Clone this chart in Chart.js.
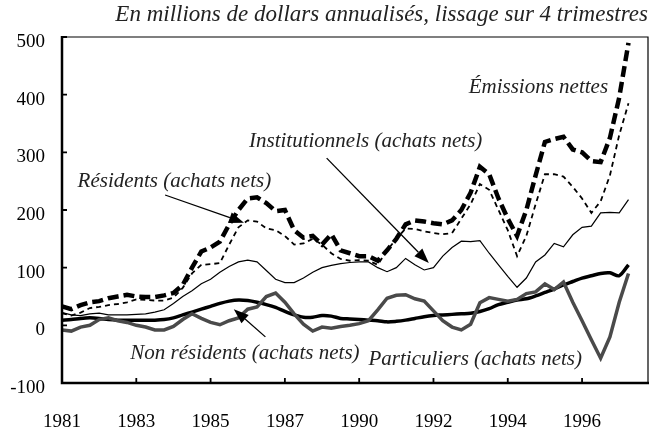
<!DOCTYPE html>
<html>
<head>
<meta charset="utf-8">
<script src="https://cdn.jsdelivr.net/npm/chart.js@4.4.1/dist/chart.umd.min.js"></script>
<style>
  body { margin: 0; background: #fff; }
  canvas { display: block; }
</style>
</head>
<body>
<canvas id="chart" width="658" height="434"></canvas>
<script>
// quarterly points, 1981 onwards; tick label every 8 quarters
const tickLabels = ['1981', '1983', '1985', '1987', '1990', '1992', '1994', '1996']

const emissions = [33, 28, 35, 40, 42, 47, 50, 53, 50, 49, 49, 52, 56, 70, 100, 128,
  135, 145, 175, 200, 220, 222, 212, 198, 200, 165, 152, 155, 140, 158, 130, 125,
  120, 120, 112, 130, 150, 175, 182, 180, 177, 175, 182, 200, 230, 275, 262, 220,
  185, 155, 200, 260, 318, 323, 327, 305, 300, 285, 283, 325, 395, 490]

const residents = [21, 17, 22, 30, 32, 35, 37, 40, 45, 44, 43, 43, 48, 65, 90, 105,
  106, 108, 140, 170, 182, 180, 168, 165, 155, 140, 142, 150, 140, 125, 115, 112,
  113, 112, 105, 130, 150, 168, 167, 163, 160, 158, 160, 185, 210, 245, 235, 200,
  165, 120, 155, 210, 262, 262, 258, 240, 220, 195, 215, 260, 330, 385]

const institutionnels = [22, 18, 17, 20, 21, 18, 18, 18, 19, 20, 23, 27, 38, 50, 60, 72,
  80, 92, 102, 110, 113, 110, 95, 80, 74, 74, 82, 92, 100, 104, 107, 109,
  110, 110, 100, 93, 100, 116, 105, 96, 100, 120, 135, 146, 145, 147, 125, 105,
  85, 66, 82, 110, 122, 142, 136, 157, 170, 172, 195, 196, 195, 218]

const nonResidents = [9, 10, 12, 13, 12, 10, 9, 9, 9, 9, 9, 10, 13, 18, 23, 28,
  33, 38, 42, 44, 43, 40, 36, 31, 24, 18, 14, 14, 17, 16, 12, 11,
  10, 9, 8, 6, 7, 9, 12, 15, 17, 18, 19, 20, 21, 24, 29, 36,
  40, 44, 46, 51, 57, 63, 70, 76, 82, 86, 90, 91, 86, 105]

const particuliers = [-8, -10, -3, 0, 10, 13, 8, 5, 0, -3, -8, -8, -2, 10, 20, 12,
  5, 1, 8, 13, 28, 32, 50, 56, 40, 20, 2, -10, -3, -5, -2, 0,
  3, 8, 27, 47, 52, 53, 46, 42, 25, 8, -3, -8, 2, 39, 48, 45,
  42, 45, 55, 58, 72, 62, 75, 40, 8, -25, -57, -20, 40, 90]

const toPoints = values => values.map((v, i) => ({x: i, y: v}))

const serif = '"Liberation Serif", "Times New Roman", serif'

// labels written on the plot, placed in data units
const notes = [
  {text: 'Émissions nettes', x: 58.8, y: 412, align: 'right'},
  {text: 'Institutionnels (achats nets)', x: 32.7, y: 318, align: 'center'},
  {text: 'Résidents (achats nets)', x: 12.1, y: 249, align: 'center'},
  {text: 'Non résidents (achats nets)', x: 19.7, y: -48, align: 'center'},
  {text: 'Particuliers (achats nets)', x: 44.5, y: -60, align: 'center'},
]
const arrows = [
  {from: [11.1, 226], to: [19.6, 178]},
  {from: [28.5, 290], to: [39.5, 108]},
  {from: [21.9, -20], to: [18.5, 28]},
]

const notesPlugin = {
  id: 'notes',
  afterDatasetsDraw(chart) {
    const {ctx, chartArea: a, scales: {x, y}} = chart
    ctx.save()
    // box: thin top/right, thick left/bottom
    ctx.strokeStyle = '#000'
    ctx.lineWidth = 1.2
    ctx.beginPath()
    ctx.moveTo(a.left, a.top); ctx.lineTo(a.right, a.top); ctx.lineTo(a.right, a.bottom)
    ctx.stroke()
    ctx.lineWidth = 2.5
    ctx.beginPath()
    ctx.moveTo(a.left, a.top - 1); ctx.lineTo(a.left, a.bottom); ctx.lineTo(a.right + 1, a.bottom)
    ctx.stroke()
    // inward tick marks
    ctx.lineWidth = 1.8
    ctx.beginPath()
    x.ticks.forEach(t => {
      const px = x.getPixelForValue(t.value)
      if (px > a.left + 2) { ctx.moveTo(px, a.bottom); ctx.lineTo(px, a.bottom - 5) }
    })
    y.ticks.forEach(t => {
      const py = y.getPixelForValue(t.value)
      ctx.moveTo(a.left, py); ctx.lineTo(a.left + 5, py)
    })
    ctx.stroke()
    // arrows
    arrows.forEach(ar => {
      const x0 = x.getPixelForValue(ar.from[0]), y0 = y.getPixelForValue(ar.from[1])
      const x1 = x.getPixelForValue(ar.to[0]), y1 = y.getPixelForValue(ar.to[1])
      const ang = Math.atan2(y1 - y0, x1 - x0)
      const len = 15, half = 5.5
      const bx = x1 - len * Math.cos(ang), by = y1 - len * Math.sin(ang)
      ctx.lineWidth = 1.3
      ctx.beginPath(); ctx.moveTo(x0, y0); ctx.lineTo(bx, by); ctx.stroke()
      ctx.beginPath()
      ctx.moveTo(x1, y1)
      ctx.lineTo(bx + half * Math.sin(ang), by - half * Math.cos(ang))
      ctx.lineTo(bx - half * Math.sin(ang), by + half * Math.cos(ang))
      ctx.closePath()
      ctx.fillStyle = '#000'
      ctx.fill()
    })
    // text labels
    ctx.font = 'italic 21px ' + serif
    ctx.fillStyle = '#222'
    ctx.textBaseline = 'middle'
    notes.forEach(n => {
      ctx.textAlign = n.align
      ctx.fillText(n.text, x.getPixelForValue(n.x), y.getPixelForValue(n.y))
    })
    ctx.restore()
  }
}

new Chart(document.getElementById('chart'), {
  type: 'line',
  data: {
    datasets: [
      {label: 'Institutionnels', data: toPoints(institutionnels), borderColor: '#000', borderWidth: 1.2},
      {label: 'Particuliers', data: toPoints(particuliers), borderColor: '#4a4a4a', borderWidth: 3.5},
      {label: 'Non résidents', data: toPoints(nonResidents), borderColor: '#000', borderWidth: 3.5, tension: 0.3},
      {label: 'Résidents', data: toPoints(residents), borderColor: '#000', borderWidth: 1.8, borderDash: [5, 4]},
      {label: 'Émissions nettes', data: toPoints(emissions), borderColor: '#000', borderWidth: 4.5, borderDash: [11, 5]},
    ]
  },
  options: {
    responsive: false,
    animation: false,
    devicePixelRatio: 1,
    events: [],
    elements: {
      point: {radius: 0},
      line: {tension: 0, fill: false, borderJoinStyle: 'miter', borderCapStyle: 'butt'}
    },
    layout: {padding: {top: 0, right: 10, bottom: 0, left: 0}},
    plugins: {
      legend: {display: false},
      tooltip: {enabled: false},
      title: {
        display: true,
        text: 'En millions de dollars annualisés, lissage sur 4 trimestres',
        align: 'end',
        color: '#222',
        font: {family: serif, size: 23, style: 'italic', weight: 'normal', lineHeight: 1.2},
        padding: {top: 1, bottom: 8.4}
      }
    },
    scales: {
      x: {
        type: 'linear',
        min: 0,
        max: 63.1,
        grid: {display: false, drawTicks: false},
        border: {display: false},
        afterFit: scale => { scale.height = 51 },
        ticks: {
          stepSize: 8,
          includeBounds: false,
          autoSkip: false,
          maxRotation: 0,
          padding: 28,
          color: '#000',
          font: {family: serif, size: 19},
          callback: v => tickLabels[v / 8]
        }
      },
      y: {
        min: -100,
        max: 500,
        grid: {display: false, drawTicks: false},
        border: {display: false},
        afterFit: scale => { scale.width = 62 },
        ticks: {
          stepSize: 100,
          padding: 17,
          labelOffset: 5,
          color: '#000',
          font: {family: serif, size: 19}
        }
      }
    }
  },
  plugins: [notesPlugin]
})
</script>
</body>
</html>
